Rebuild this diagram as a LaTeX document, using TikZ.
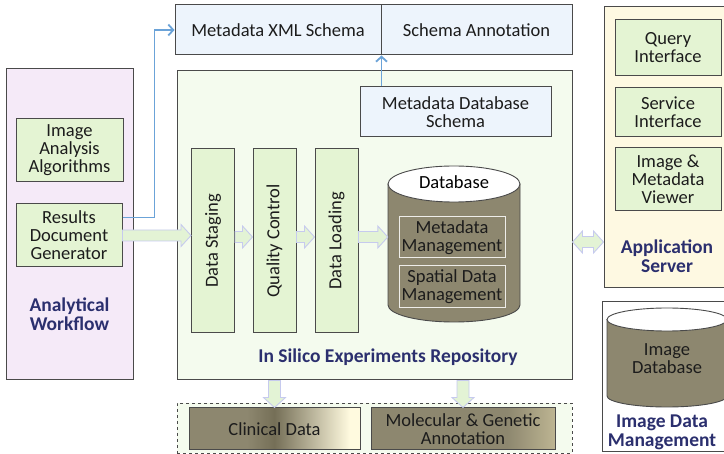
\documentclass[tikz,border=0pt]{standalone}
\usepackage{fontspec}
\setmainfont{Carlito}
\usetikzlibrary{calc,arrows.meta}

\definecolor{wfpink}{HTML}{F5EAF8}
\definecolor{boxgreen}{HTML}{E4F4D3}
\definecolor{repogreen}{HTML}{F4FBEE}
\definecolor{schemablue}{HTML}{EDF4FC}
\definecolor{appcream}{HTML}{FEF9E2}
\definecolor{navy}{HTML}{2B2F6E}
\definecolor{olive}{HTML}{8D876F}
\definecolor{olivedark}{HTML}{756F57}
\definecolor{cream}{HTML}{FFFADF}
\definecolor{olivelight}{HTML}{BDB592}
\definecolor{linkblue}{HTML}{6BA3D8}
\definecolor{arrowfill}{HTML}{E3F3D5}
\definecolor{arrowedge}{HTML}{C6CAEE}
\definecolor{edge}{HTML}{4A4A4A}
\definecolor{ink}{HTML}{1C1C1C}

% horizontal fades for the two external data sources
\pgfdeclarehorizontalshading{clinfade}{100bp}{color(0bp)=(olive); color(25bp)=(olive); color(42bp)=(olive); color(50bp)=(olivedark); color(72bp)=(cream); color(100bp)=(cream)}
\pgfdeclarehorizontalshading{molfade}{100bp}{color(0bp)=(olive); color(25bp)=(olive); color(62bp)=(olive); color(75bp)=(olivelight); color(100bp)=(olivelight)}

\tikzset{
  panel/.style={draw=edge, line width=1pt, inner sep=0pt},
  greenbox/.style={draw=edge, line width=1pt, fill=boxgreen, align=center, inner sep=0pt, text=ink},
  bluebox/.style={draw=edge, line width=1pt, fill=schemablue, align=center, inner sep=0pt, text=ink},
  stagebox/.style={greenbox, minimum width=184pt, minimum height=43pt},
  dbpart/.style={draw=white!85!olive, line width=1pt, fill=olive, align=center, inner sep=0pt, minimum width=106pt, text=ink},
  title/.style={font=\fontsize{19.5}{19}\selectfont\bfseries, text=navy, align=center},
  fatarr/.style={fill=arrowfill, draw=arrowedge, line width=0.9pt, line join=miter},
  link/.style={draw=linkblue, line width=1.3pt},
  linktip/.style={-{Straight Barb[length=5pt, width=11pt, line width=1.8pt]}},
  cyl/.style={fill=olive, draw=edge, line width=0.9pt},
}

% wide hollow arrows
\newcommand\fatright[2]{\path[fatarr] let \p1=#1, \p2=#2 in
  (\x1,\y1+5.5pt) -- (\x2-10pt,\y1+5.5pt) -- (\x2-10pt,\y1+11pt) -- (\x2,\y1)
  -- (\x2-10pt,\y1-11pt) -- (\x2-10pt,\y1-5.5pt) -- (\x1,\y1-5.5pt) -- cycle;}
\newcommand\fatdown[2]{\path[fatarr] let \p1=#1, \p2=#2 in
  (\x1-6pt,\y1) -- (\x1-6pt,\y2+10pt) -- (\x1-11pt,\y2+10pt) -- (\x1,\y2)
  -- (\x1+11pt,\y2+10pt) -- (\x1+6pt,\y2+10pt) -- (\x1+6pt,\y1) -- cycle;}
\newcommand\fatboth[2]{\path[fatarr] let \p1=#1, \p2=#2 in
  (\x1,\y1) -- (\x1+10pt,\y1+11pt) -- (\x1+10pt,\y1+5.5pt) -- (\x2-10pt,\y1+5.5pt)
  -- (\x2-10pt,\y1+11pt) -- (\x2,\y1) -- (\x2-10pt,\y1-11pt) -- (\x2-10pt,\y1-5.5pt)
  -- (\x1+10pt,\y1-5.5pt) -- (\x1+10pt,\y1-11pt) -- cycle;}

\begin{document}
\begin{tikzpicture}[x=1pt, y=-1pt, font=\fontsize{18.5}{18}\selectfont]
\useasboundingbox (0,0) rectangle (724,454);
\clip (0,0) rectangle (724,454);
\fill[white] (0,0) rectangle (724,454);

% ---------- Analytical workflow ----------
\node[panel, fill=wfpink, minimum width=127pt, minimum height=311pt] (wf) at (69.5,224.5) {};
\node[greenbox, minimum width=107pt, minimum height=63pt] (iaa) at (69.5,150.5) {Image\\Analysis\\Algorithms};
\node[greenbox, minimum width=106pt, minimum height=63pt] (rdg) at (69,235.5) {Results\\Document\\Generator};
\node[title] (wflabel) at (69.5,314) {Analytical\\Workflow};

% ---------- Schema row ----------
\node[bluebox, minimum width=206pt, minimum height=50pt] (xml) at (278,30) {Metadata XML Schema};
\node[bluebox, minimum width=191pt, minimum height=50pt] (ann) at (476.5,30) {Schema Annotation};

% ---------- Repository ----------
\node[panel, fill=repogreen, minimum width=395pt, minimum height=309pt] (repo) at (374.5,225.5) {};
\node[bluebox, minimum width=191pt, minimum height=50pt] (mds) at (455.5,112) {Metadata Database\\Schema};
\node[stagebox, rotate=90] (ds) at (213,241) {Data Staging};
\node[stagebox, rotate=90] (qc) at (274.5,241) {Quality Control};
\node[stagebox, rotate=90] (dl) at (336.5,241) {Data Loading};

% database cylinder
\node[minimum width=132pt, minimum height=156pt, inner sep=0pt] (db) at (454,244) {};
\path[cyl] (388,184) -- (388,305) arc[start angle=180, end angle=0, x radius=66, y radius=17] -- (520,184) -- cycle;
\draw[fill=white, draw=edge, line width=0.9pt] (454,184) ellipse [x radius=66, y radius=18];
\node[text=black] (dbname) at (454,182) {Database};
\node[dbpart, minimum height=41pt] (mm) at (452,237.5) {Metadata\\Management};
\node[dbpart, minimum height=42pt] (sdm) at (452,287) {Spatial Data\\Management};
\node[title] (repolabel) at (388,357) {In Silico Experiments Repository};

% ---------- External data ----------
\node[draw=edge, dashed, line width=0.9pt, fill=repogreen, minimum width=395pt, minimum height=50pt] (ext) at (374.5,428) {};
\node[draw=edge, line width=1pt, shading=clinfade, minimum width=171pt, minimum height=42pt, align=center, text=ink] (clin) at (274.5,429) {Clinical Data};
\node[draw=edge, line width=1pt, shading=molfade, minimum width=184pt, minimum height=42pt, align=center, text=ink] (mol) at (463,429) {Molecular \& Genetic\\Annotation};

% ---------- Application server ----------
\node[panel, fill=appcream, minimum width=126pt, minimum height=281pt] (app) at (667,147.5) {};
\node[greenbox, minimum width=106pt, minimum height=56pt] (qi) at (668,48) {Query\\Interface};
\node[greenbox, minimum width=106pt, minimum height=49pt] (si) at (668,112.5) {Service\\Interface};
\node[greenbox, minimum width=106pt, minimum height=63pt] (imv) at (668,179.5) {Image \&\\Metadata\\Viewer};
\node[title] (applabel) at (667,256) {Application\\Server};

% ---------- Image data management ----------
\node[panel, fill=white, minimum width=128pt, minimum height=150pt] (idm) at (666,377) {};
\path[cyl] (607,319.5) -- (607,396) arc[start angle=180, end angle=0, x radius=60, y radius=11] -- (727,319.5) -- cycle;
\draw[fill=white, draw=edge, line width=0.9pt] (667,319.5) ellipse [x radius=60, y radius=11.5];
\node[text=ink, align=center] (imgdb) at (667,359) {Image\\Database};
\node[title] (idmlabel) at (662,432) {Image Data\\Management};

% ---------- Connectors ----------
\coordinate (lvl) at (0,237);
\coordinate (srv) at (0,242);
\coordinate (rdgout) at ($(rdg.north east)!0.22!(rdg.south east)$);
\draw[link, linktip] (rdgout) -- ++(32,0) |- (xml.west);
\draw[link, linktip] (mds.north -| xml.south east) -- (xml.south east);

\fatright{(rdg.east)}{(rdg.east -| ds.north)}
\fatright{(ds.south |- lvl)}{(qc.north |- lvl)}
\fatright{(qc.south |- lvl)}{(dl.north |- lvl)}
\fatright{(dl.south |- lvl)}{(db.west |- lvl)}
\fatboth{(repo.east |- srv)}{(app.west |- srv)}
\fatdown{(clin.north |- repo.south)}{(clin.north)}
\fatdown{(mol.north |- repo.south)}{(mol.north)}
\end{tikzpicture}
\end{document}
